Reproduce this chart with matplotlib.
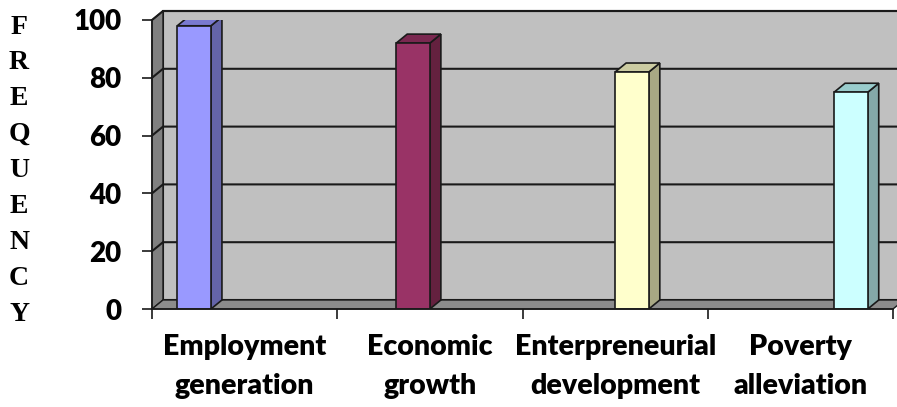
import numpy as np
import matplotlib
matplotlib.use("Agg")
import matplotlib.pyplot as plt
from matplotlib.patches import Polygon

categories = ["Employment\ngeneration", "Economic\ngrowth",
              "Enterpreneurial\ndevelopment", "Poverty\nalleviation"]
values = [98, 92, 82, 75]
front_colors = ["#9999FF", "#993366", "#FFFFCC", "#CCFFFF"]
side_colors = ["#6464A8", "#64213F", "#A8A884", "#84A8A8"]
top_colors = ["#7A7AD0", "#7A2850", "#CCCCA2", "#99CCCC"]
yticks = [0, 20, 40, 60, 80, 100]
ylabel = "FREQUENCY"

W, H = 897, 407
fig = plt.figure(figsize=(W / 100, H / 100), dpi=100)
ax = fig.add_axes([152 / W, (H - 309) / H, 741 / W, 289 / H])
n = len(categories)
ax.set_xlim(0, n)
ax.set_ylim(0, 100)

# depth offset of the 3-D box, in data units (about 11 px right, 9 px up)
dx = 11 / (741 / n)
dy = 9 / 2.89
edge = "#1a1a1a"

# back wall, side wall, floor
ax.add_patch(Polygon([(dx, dy), (n + dx, dy), (n + dx, 100 + dy), (dx, 100 + dy)],
                     facecolor="#C0C0C0", edgecolor=edge, lw=1.5, clip_on=False, zorder=1))
ax.add_patch(Polygon([(0, 0), (dx, dy), (dx, 100 + dy), (0, 100)],
                     facecolor="#808080", edgecolor=edge, lw=1.0, clip_on=False, zorder=1))
ax.add_patch(Polygon([(0, 0), (n, 0), (n + dx, dy), (dx, dy)],
                     facecolor="#8C8C8C", edgecolor=edge, lw=1.0, clip_on=False, zorder=1))

for t in yticks[1:]:
    ax.plot([0, dx, n + dx], [t, t + dy, t + dy], color=edge, lw=1.5,
            clip_on=False, zorder=2)

# clustered layout: 4 series, gap width 150%
w = 1 / (n + 1.5)
for i, v in enumerate(values):
    x0 = i + (0.75 + i) * w
    ax.bar(x0, v, width=w, align="edge", color=front_colors[i],
           edgecolor=edge, lw=1.2, zorder=4)
    ax.add_patch(Polygon([(x0 + w, 0), (x0 + w + dx, dy), (x0 + w + dx, v + dy), (x0 + w, v)],
                         facecolor=side_colors[i], edgecolor=edge, lw=1.2, zorder=3))
    ax.add_patch(Polygon([(x0, v), (x0 + w, v), (x0 + w + dx, v + dy), (x0 + dx, v + dy)],
                         facecolor=top_colors[i], edgecolor=edge, lw=1.2, zorder=3))

for s in ["top", "right"]:
    ax.spines[s].set_visible(False)
for s in ["left", "bottom"]:
    ax.spines[s].set_linewidth(1.2)
    ax.spines[s].set_color(edge)
    ax.spines[s].set_zorder(5)
ax.patch.set_visible(False)

font = "Lato"
ax.set_yticks(yticks)
ax.set_yticklabels([str(t) for t in yticks], fontsize=20, fontweight="heavy",
                   family=font)
ax.tick_params(axis="y", length=7.2, width=1.2, pad=15, color=edge)

ax.set_xticks(np.arange(n + 1))
ax.set_xticklabels([])
ax.tick_params(axis="x", length=7.2, width=1.2, color=edge)
ax.set_xticks(np.arange(n) + 0.5, minor=True)
ax.set_xticklabels(categories, minor=True, fontsize=20.5, fontweight="heavy",
                   family=font, linespacing=1.6)
ax.tick_params(axis="x", which="minor", length=0, pad=18)

for k, ch in enumerate(ylabel):
    fig.text(19 / W, 1 - (27 + k * 35.9) / H, ch, ha="center", va="center",
             fontsize=20, fontweight="bold", family="Liberation Serif")

fig.savefig("out.png", dpi=100)
